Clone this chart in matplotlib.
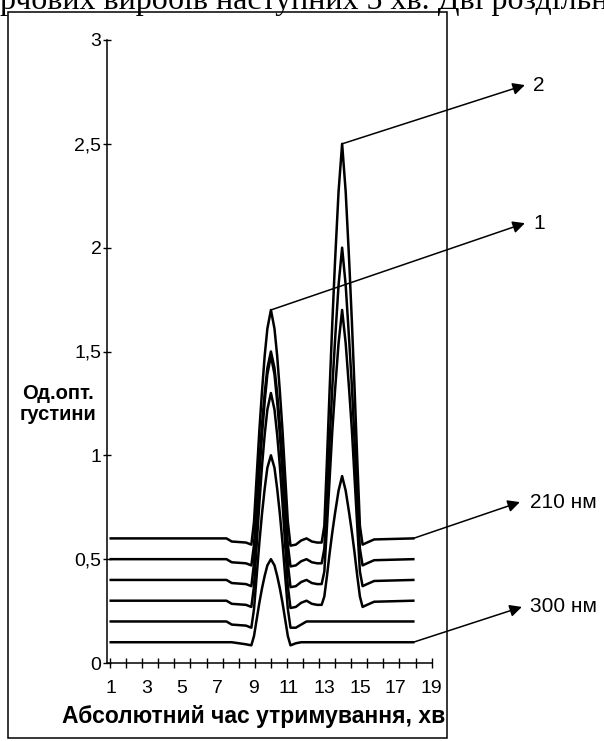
import numpy as np
import matplotlib.pyplot as plt
from matplotlib.patches import Rectangle

plt.rcParams['font.family'] = ['Liberation Sans', 'DejaVu Sans']

# час утримування, хв
t = [1.0, 7.5, 7.8, 8.6, 8.9, 9.05, 9.2, 9.35, 9.5, 9.65, 9.8, 10.0,
     10.2, 10.35, 10.5, 10.65, 10.8, 10.95, 11.1, 11.4, 11.7, 12.0, 12.3,
     12.6, 12.85, 13.0, 13.15, 13.3, 13.45, 13.6, 13.8, 14.0, 14.2, 14.4,
     14.55, 14.7, 14.85, 15.0, 15.15, 15.4, 15.8, 18.0]

# оптична густина для кожної довжини хвилі (зверху вниз)
od_210 = [0.60, 0.60, 0.585, 0.58, 0.57, 0.68, 0.90, 1.12, 1.31, 1.48, 1.61, 1.70,
          1.61, 1.48, 1.31, 1.12, 0.90, 0.68, 0.565, 0.57, 0.59, 0.60, 0.585,
          0.58, 0.58, 0.66, 0.98, 1.32, 1.64, 1.93, 2.27, 2.50, 2.27, 1.93,
          1.64, 1.32, 0.98, 0.66, 0.57, 0.58, 0.595, 0.60]
od_2 = [0.50, 0.50, 0.485, 0.48, 0.47, 0.57, 0.77, 0.97, 1.15, 1.30, 1.42, 1.50,
        1.42, 1.30, 1.15, 0.97, 0.77, 0.57, 0.465, 0.47, 0.49, 0.50, 0.485,
        0.48, 0.48, 0.55, 0.80, 1.07, 1.33, 1.55, 1.82, 2.00, 1.82, 1.55,
        1.33, 1.07, 0.80, 0.55, 0.47, 0.48, 0.495, 0.50]
od_3 = [0.40, 0.40, 0.385, 0.38, 0.37, 0.48, 0.69, 0.91, 1.10, 1.26, 1.39, 1.48,
        1.39, 1.26, 1.10, 0.91, 0.69, 0.48, 0.365, 0.37, 0.39, 0.40, 0.385,
        0.38, 0.38, 0.44, 0.66, 0.89, 1.12, 1.31, 1.54, 1.70, 1.54, 1.31,
        1.12, 0.89, 0.66, 0.44, 0.37, 0.38, 0.395, 0.40]
od_4 = [0.30, 0.30, 0.285, 0.28, 0.27, 0.37, 0.57, 0.77, 0.95, 1.10, 1.22, 1.30,
        1.22, 1.10, 0.95, 0.77, 0.57, 0.37, 0.265, 0.27, 0.29, 0.30, 0.285,
        0.28, 0.28, 0.32, 0.42, 0.53, 0.63, 0.72, 0.83, 0.90, 0.83, 0.72,
        0.63, 0.53, 0.42, 0.32, 0.27, 0.28, 0.295, 0.30]
od_5 = [0.20, 0.20, 0.185, 0.18, 0.17, 0.26, 0.42, 0.58, 0.72, 0.84, 0.94, 1.00,
        0.94, 0.84, 0.72, 0.58, 0.42, 0.26, 0.17, 0.17, 0.185, 0.20, 0.20,
        0.20, 0.20, 0.20, 0.20, 0.20, 0.20, 0.20, 0.20, 0.20, 0.20, 0.20,
        0.20, 0.20, 0.20, 0.20, 0.20, 0.20, 0.20, 0.20]
od_300 = [0.10, 0.10, 0.10, 0.09, 0.085, 0.13, 0.21, 0.29, 0.36, 0.42, 0.47, 0.50,
          0.47, 0.42, 0.36, 0.29, 0.21, 0.13, 0.085, 0.095, 0.10, 0.10, 0.10,
          0.10, 0.10, 0.10, 0.10, 0.10, 0.10, 0.10, 0.10, 0.10, 0.10, 0.10,
          0.10, 0.10, 0.10, 0.10, 0.10, 0.10, 0.10, 0.10]

y_ticks = [0, 0.5, 1, 1.5, 2, 2.5, 3]
y_labels = ['0', '0,5', '1', '1,5', '2', '2,5', '3']
x_ticks = [1, 3, 5, 7, 9, 11, 13, 15, 17, 19]

fig = plt.figure(figsize=(6.04, 7.41), dpi=100)
ax = fig.add_axes([107 / 604, 1 - 663 / 741, 325 / 604, 623 / 741])

for od in [od_210, od_2, od_3, od_4, od_5, od_300]:
    ax.plot(t, od, color='black', lw=1.8, solid_joinstyle='round')

ax.set_xlim(0.79, 19.05)
ax.set_ylim(0, 3)
ax.spines['top'].set_visible(False)
ax.spines['right'].set_visible(False)
ax.spines['left'].set_linewidth(1.1)
ax.spines['bottom'].set_linewidth(1.1)

ax.set_yticks(y_ticks)
ax.set_yticklabels(y_labels)
ax.tick_params(axis='y', direction='inout', length=6, width=1, labelsize=14, pad=1)
ax.set_xticks(x_ticks)
ax.set_xticklabels([str(v) for v in x_ticks])
ax.tick_params(axis='x', which='major', length=0, labelsize=14, pad=12)
ax.set_xticks(np.linspace(0.96, 19.03, 21), minor=True)
ax.tick_params(axis='x', which='minor', direction='inout', length=7, width=1)

fig.text(445 / 604, 1 - 716 / 741, 'Абсолютний час утримування, хв',
         ha='right', va='center', fontsize=16.5, fontweight='bold')
fig.text(58 / 604, 1 - 404 / 741, 'Од.опт.\nгустини', ha='center', va='center',
         fontsize=14.5, fontweight='bold', linespacing=1.15)

arrow = dict(arrowstyle='-|>', color='black', lw=1.1, mutation_scale=18,
             shrinkA=0, shrinkB=0)
marks = [((14.0, 2.50), (24.27, 2.783), '2', 24.72),
         ((10.0, 1.70), (24.27, 2.118), '1', 24.72),
         ((18.0, 0.60), (23.99, 0.775), '210 нм', 24.55),
         ((18.0, 0.10), (24.10, 0.270), '300 нм', 24.55)]
for start, tip, label, tx in marks:
    ax.annotate('', xy=tip, xytext=start, arrowprops=arrow, annotation_clip=False)
    ax.text(tx, tip[1], label, fontsize=15, ha='left', va='center', clip_on=False)

fig.patches.append(Rectangle((8 / 604, 1 - 738 / 741), 439 / 604, 726 / 741,
                             transform=fig.transFigure, fill=False,
                             edgecolor='black', lw=1.1))

fig.text(0 / 604, 1 - 9 / 741, 'рчових виробів наступних 5 хв. Дві роздільн',
         ha='left', va='baseline', fontsize=23, family='Liberation Serif')

fig.savefig('out.png', dpi=100)
